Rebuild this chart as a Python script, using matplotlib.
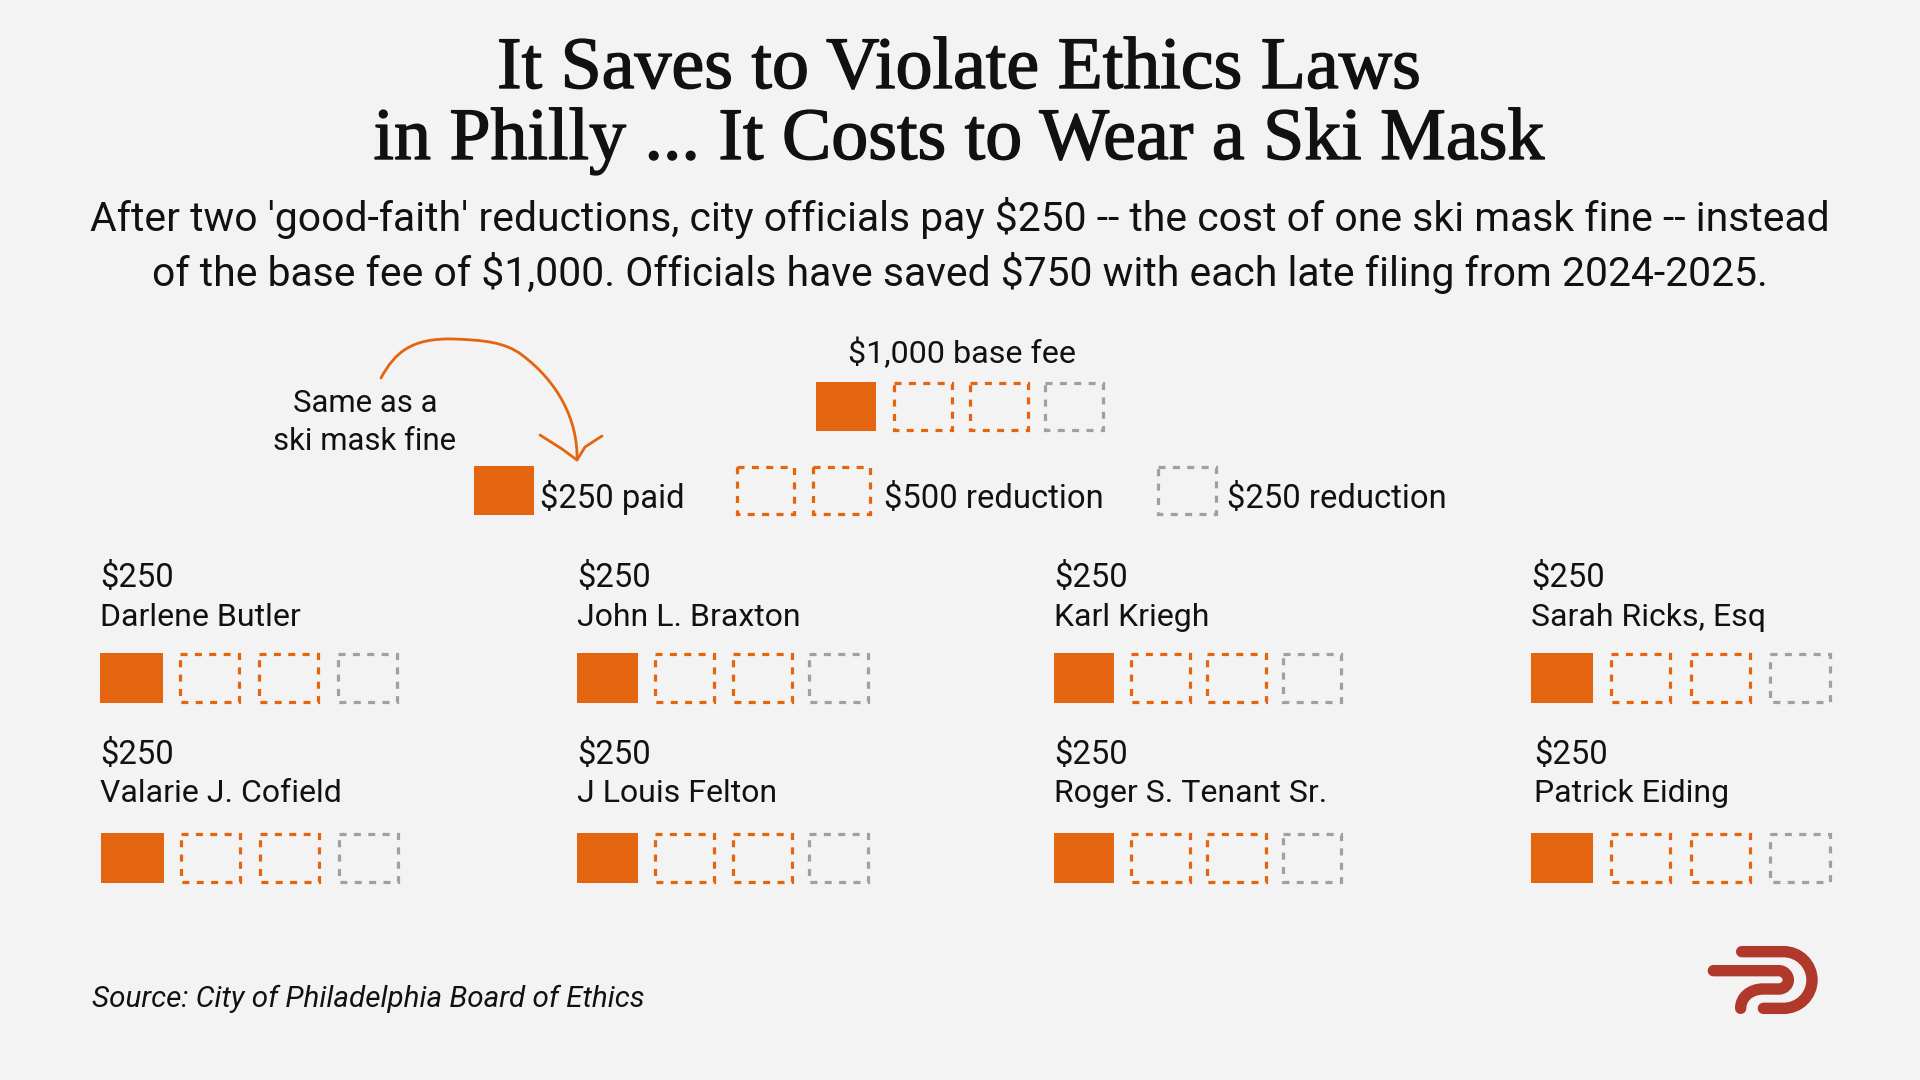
import matplotlib
matplotlib.use('Agg')
import matplotlib.pyplot as plt
import matplotlib.patheffects as pe
from matplotlib.patches import Rectangle, PathPatch
from matplotlib.path import Path

BG = '#F3F3F3'
ORANGE = '#E5640F'
GRAY = '#A0A0A0'
RED = '#B0392B'
INK = '#111111'
SANS = ['Roboto', 'DejaVu Sans']
SERIF = ['Liberation Serif', 'DejaVu Serif']

### data
title_lines = ['It Saves to Violate Ethics Laws', 'in Philly ... It Costs to Wear a Ski Mask']
sub_lines = ["After two 'good-faith' reductions, city officials pay $250 -- the cost of one ski mask fine -- instead",
             'of the base fee of $1,000. Officials have saved $750 with each late filing from 2024-2025.']
officials = ['Darlene Butler', 'John L. Braxton', 'Karl Kriegh', 'Sarah Ricks, Esq',
             'Valarie J. Cofield', 'J Louis Felton', 'Roger S. Tenant Sr.', 'Patrick Eiding']
paid = [250, 250, 250, 250, 250, 250, 250, 250]
# one box per $250 of the base fee
fee_boxes = ['paid', 'reduction', 'reduction', 'small']
source = 'Source: City of Philadelphia Board of Ethics'

### layout (pixels)
col_text_x = [100, 577, 1054, 1531]
col_box_x = [[100, 179, 258, 337], [577, 654, 732, 808],
             [1054, 1130, 1206, 1282], [1531, 1610, 1690, 1769]]
col_box_w = [[63, 61, 61, 61], [61, 61, 61, 61], [60, 61, 61, 60], [62, 61, 61, 62]]

fig = plt.figure(figsize=(19.2, 10.8), dpi=100, facecolor=BG)
ax = fig.add_axes([0, 0, 1, 1])
ax.set_xlim(0, 1920)
ax.set_ylim(1080, 0)
ax.axis('off')


def draw_box(x, y, w, h, kind):
    if kind == 'paid':
        ax.add_patch(Rectangle((x, y), w, h, fc=ORANGE, ec='none'))
    else:
        c = ORANGE if kind == 'reduction' else GRAY
        ax.add_patch(Rectangle((x + 1, y + 1), w - 2, h - 2, fc='none', ec=c, lw=2.3,
                               linestyle=(0, (2.2, 2.3))))


def label(x, y, s, size=23, ha='left', **kw):
    ax.text(x, y, s, fontsize=size, ha=ha, va='baseline', color=INK, family=SANS,
            parse_math=False, **kw)


# title + subtitle
for y, s in zip([88, 159], title_lines):
    t = ax.text(959, y, s, fontsize=53.2, ha='center', va='baseline', color=INK, family=SERIF,
                parse_math=False)
    t.set_path_effects([pe.withStroke(linewidth=1.0, foreground=INK)])
for y, s in zip([231, 286], sub_lines):
    label(960, y, s, size=29.4, ha='center')

# legend, full fee
label(962, 363, '$1,000 base fee', size=23.2, ha='center')
for x, k in zip([816, 893, 969, 1044], fee_boxes):
    draw_box(x, 382, 60, 49, k)

# legend, parts
draw_box(474, 466, 60, 49, 'paid')
draw_box(736, 466, 59, 49, 'reduction')
draw_box(812, 466, 59, 49, 'reduction')
draw_box(1157, 466, 60, 49, 'small')
label(540, 508, '$250 paid', size=23.6)
label(884, 508, '$500 reduction', size=23.6)
label(1227, 508, '$250 reduction', size=23.6)

# note with hand drawn arrow
label(365, 412, 'Same as a', size=22.4, ha='center')
label(365, 450, 'ski mask fine', size=22.4, ha='center')
arrow = Path([(381, 378), (395, 352), (412, 338), (453, 339),
              (483, 340), (505, 342), (522, 355),
              (558, 382), (578, 420), (577, 460)],
             [Path.MOVETO, Path.CURVE4, Path.CURVE4, Path.CURVE4,
              Path.CURVE4, Path.CURVE4, Path.CURVE4,
              Path.CURVE4, Path.CURVE4, Path.CURVE4])
ax.add_patch(PathPatch(arrow, fc='none', ec=ORANGE, lw=2.0, capstyle='round'))
ax.plot([540, 562, 577, 585, 602], [435, 449, 460, 447, 436], color=ORANGE, lw=2.0,
        solid_capstyle='round', solid_joinstyle='round')

# officials
for i, name in enumerate(officials):
    col, row = i % 4, i // 4
    dx = 1 if (col == 0 and row == 1) else 0
    tx = 3 if (col == 3 and row == 1) else 0
    y_money, y_name, y_box = [(587, 626, 653), (764, 802, 833)][row]
    label(col_text_x[col] + tx, y_money, '$%d' % paid[i], size=23.6)
    label(col_text_x[col] + tx, y_name, name)
    for x, w, k in zip(col_box_x[col], col_box_w[col], fee_boxes):
        draw_box(x + dx, y_box, w, 50, k)

label(92, 1007, source, size=21.3, style='italic')


def lp(points):
    return [(1660 + px / 3, 920 + py / 3) for px, py in points]


K = 0.5523
outer = Path(lp([(245, 95), (371, 95),
                 (371 + 85 * K, 95), (456, 180 - 85 * K), (456, 180),
                 (456, 180 + 85 * K), (371 + 85 * K, 265), (371, 265),
                 (310, 265)]),
             [Path.MOVETO, Path.LINETO, Path.CURVE4, Path.CURVE4, Path.CURVE4,
              Path.CURVE4, Path.CURVE4, Path.CURVE4, Path.LINETO])
inner = Path(lp([(160, 152), (357, 152),
                 (372, 152), (385, 165), (385, 180),
                 (385, 195), (372, 207), (357, 207),
                 (310, 207),
                 (270, 207), (242, 232), (242, 265)]),
             [Path.MOVETO, Path.LINETO, Path.CURVE4, Path.CURVE4, Path.CURVE4,
              Path.CURVE4, Path.CURVE4, Path.CURVE4, Path.LINETO,
              Path.CURVE4, Path.CURVE4, Path.CURVE4])
for p in (outer, inner):
    ax.add_patch(PathPatch(p, fc='none', ec=RED, lw=8.2, capstyle='round', joinstyle='round'))

fig.savefig('out.png', dpi=100, facecolor=BG)
